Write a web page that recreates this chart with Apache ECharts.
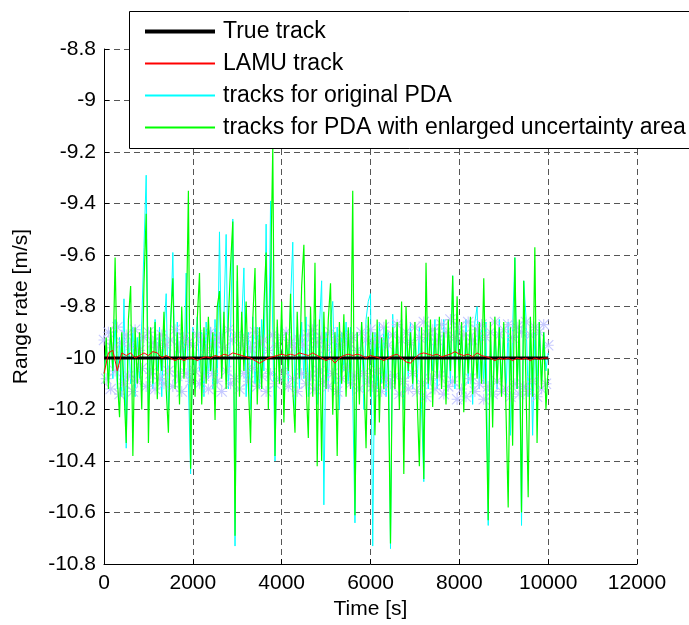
<!DOCTYPE html>
<html>
<head>
<meta charset="utf-8">
<title>Range rate</title>
<script src="https://cdn.jsdelivr.net/npm/echarts@6/dist/echarts.min.js"></script>
<style>
html,body{margin:0;padding:0;background:#fff;}
#main{width:689px;height:625px;}
</style>
</head>
<body>
<div id="main"></div>
<script>
//坐标轴刻度
var xTicks=[0,2000,4000,6000,8000,10000,12000];
var yTicks=[-10.8,-10.6,-10.4,-10.2,-10,-9.8,-9.6,-9.4,-9.2,-9,-8.8];

//真实航迹
var trueTime=[0,10000];
var trueValue=[-10,-10];

//LAMU航迹, 每100s一个点
var lamuStep=100;
var lamuValue=[
	-10.06,-9.98,-9.97,-10.05,-9.98,-9.99,-9.98,-10.0,-9.99,-9.98,
	-9.99,-9.975,-9.98,-10.0,-9.99,-10.0,-10.01,-10.0,-10.01,-10.0,
	-10.0,-10.01,-10.0,-9.995,-10.0,-9.99,-9.995,-9.985,-9.99,-9.98,
	-9.985,-9.99,-9.995,-10.0,-10.01,-10.02,-10.01,-10.0,-9.995,-9.99,
	-9.985,-9.99,-9.985,-9.99,-9.98,-9.985,-9.99,-9.98,-9.99,-10.0,
	-10.01,-10.0,-10.02,-10.0,-9.99,-9.985,-9.99,-9.985,-9.99,-10.0,
	-9.99,-9.995,-10.0,-10.01,-10.0,-9.99,-9.985,-10.0,-10.015,-10.02,
	-10.0,-9.985,-9.98,-9.985,-9.99,-9.985,-9.995,-9.99,-9.985,-9.975,
	-9.985,-9.99,-9.985,-9.995,-9.98,-9.99,-9.995,-10.0,-10.01,-10.0,
	-10.005,-10.0,-10.01,-10.0,-10.005,-10.0,-10.01,-10.0,-10.005,-10.0,
	-10.0
];

//原始PDA航迹, 每50s一个点
var pdaStep=50;
var pdaValue=[
	-10.06,-9.95,-10.1,-9.9,-10.08,-9.85,-10.12,-9.92,-10.15,-9.77,
	-10.35,-9.9,-10.1,-9.88,-10.15,-9.92,-10.08,-9.86,-9.57,-9.29,
	-10.2,-9.9,-10.12,-9.85,-10.05,-9.88,-10.15,-9.9,-9.75,-10.2,
	-9.88,-9.59,-10.1,-9.86,-10.14,-9.9,-10.05,-9.67,-10.1,-10.45,
	-9.88,-10.12,-9.84,-10.05,-9.9,-10.15,-9.86,-10.08,-9.88,-10.12,
	-9.85,-10.1,-9.51,-10.05,-9.84,-9.52,-10.12,-9.9,-9.46,-10.73,
	-9.7,-10.1,-9.86,-9.65,-10.15,-9.9,-10.2,-9.84,-10.1,-9.88,
	-10.12,-9.85,-10.05,-9.48,-10.12,-9.39,-9.9,-10.4,-9.88,-10.05,
	-9.85,-10.15,-9.9,-10.1,-9.78,-9.55,-10.2,-9.88,-10.12,-9.86,
	-10.08,-9.84,-10.15,-9.9,-10.1,-9.85,-10.18,-9.88,-9.7,-10.57,
	-9.9,-10.12,-9.85,-9.78,-10.1,-9.88,-10.2,-9.9,-10.05,-9.86,
	-10.1,-9.88,-10.15,-10.64,-9.9,-10.12,-9.86,-10.2,-9.85,-9.78,
	-9.75,-10.73,-9.9,-10.12,-9.86,-10.1,-9.88,-10.15,-9.9,-10.74,
	-9.83,-10.1,-9.88,-10.12,-9.85,-10.2,-9.9,-10.08,-9.86,-10.12,
	-9.9,-10.1,-9.88,-10.2,-10.48,-9.86,-10.12,-9.9,-10.05,-9.85,
	-10.12,-9.88,-10.08,-9.85,-10.15,-9.9,-10.1,-9.68,-10.12,-9.86,
	-10.05,-9.9,-10.12,-9.85,-10.1,-9.88,-10.18,-9.86,-9.8,-10.12,
	-9.88,-10.1,-9.86,-10.65,-9.9,-10.2,-9.88,-10.12,-9.85,-10.1,
	-9.9,-10.15,-9.86,-10.3,-9.88,-9.61,-10.12,-9.9,-10.65,-9.7,
	-9.84,-10.15,-9.88,-10.3,-9.9,-10.12,-9.86,-10.1,-9.9,-10.05,
	-9.98
];

//扩大不确定区域的PDA航迹, 每50s一个点
var enlargedStep=50;
var enlargedValue=[
	-10.10,-9.92,-10.12,-9.88,-10.05,-9.61,-10.08,-10.23,-9.90,-10.12,
	-10.33,-9.85,-9.72,-10.38,-9.88,-10.10,-9.90,-10.20,-9.71,-9.44,
	-10.33,-9.88,-10.10,-9.86,-10.16,-9.90,-10.05,-9.82,-10.12,-10.29,
	-9.86,-9.69,-10.12,-9.90,-10.18,-9.80,-10.08,-9.92,-9.35,-10.43,
	-9.90,-10.15,-9.85,-9.67,-10.18,-9.88,-10.10,-9.84,-10.05,-9.90,
	-10.24,-9.80,-9.74,-10.08,-9.82,-10.12,-9.85,-9.64,-9.47,-10.69,
	-9.64,-10.15,-9.82,-10.05,-9.78,-10.10,-10.33,-9.85,-9.65,-10.18,
	-9.88,-10.12,-9.80,-9.59,-10.20,-9.70,-9.18,-10.38,-9.85,-10.10,
	-9.78,-10.25,-9.90,-10.05,-9.75,-10.12,-10.29,-9.82,-10.08,-9.72,
	-9.56,-10.10,-10.31,-9.80,-10.15,-9.63,-10.42,-9.85,-10.40,-9.82,
	-10.12,-9.85,-9.71,-10.22,-9.90,-10.38,-9.86,-10.10,-9.83,-10.15,
	-9.88,-10.12,-9.35,-10.61,-9.90,-10.18,-9.86,-10.05,-10.35,-9.84,
	-10.15,-9.90,-10.30,-9.85,-10.25,-9.92,-10.12,-9.85,-10.05,-10.72,
	-9.88,-10.12,-9.86,-10.20,-9.78,-10.45,-9.80,-10.05,-9.90,-10.10,
	-9.86,-10.15,-10.42,-9.88,-10.47,-9.63,-10.10,-9.85,-10.19,-9.88,
	-10.08,-9.84,-10.12,-9.90,-10.18,-9.85,-10.05,-9.68,-10.10,-9.76,
	-10.12,-9.86,-10.21,-9.90,-10.06,-9.84,-10.14,-9.88,-10.08,-9.86,
	-10.10,-9.69,-10.15,-10.63,-9.86,-10.27,-9.84,-10.10,-9.88,-10.15,
	-9.86,-10.20,-10.58,-9.88,-10.34,-9.61,-10.12,-9.85,-10.60,-9.70,
	-10.10,-10.54,-9.84,-10.15,-9.57,-10.33,-9.86,-10.12,-9.90,-10.20,
	-10.04
];

//量测点, 每50s一个点
var measStep=50;
var measValue=[
	-9.93,-10.08,-9.9,-10.12,-9.96,-10.05,-9.88,-10.14,-9.94,-10.1,
	-9.91,-10.07,-9.95,-10.13,-9.89,-10.09,-9.97,-10.04,-9.92,-10.11,
	-9.9,-10.06,-9.94,-10.12,-9.96,-10.08,-9.91,-10.1,-9.95,-10.05,
	-9.93,-10.11,-9.89,-10.07,-9.96,-10.13,-9.92,-10.06,-9.94,-10.09,
	-9.95,-10.05,-9.91,-10.1,-9.93,-10.07,-9.97,-10.12,-9.9,-10.06,
	-9.94,-10.09,-9.92,-10.13,-9.96,-10.05,-9.89,-10.1,-9.93,-10.08,
	-9.91,-10.12,-9.95,-10.06,-9.92,-10.09,-9.96,-10.04,-9.9,-10.11,
	-9.94,-10.07,-9.93,-10.13,-9.97,-10.06,-9.91,-10.1,-9.95,-10.08,
	-9.92,-10.05,-9.9,-10.11,-9.94,-10.08,-9.96,-10.13,-9.93,-10.06,
	-9.95,-10.1,-9.91,-10.07,-9.89,-10.12,-9.94,-10.05,-9.92,-10.09,
	-9.96,-10.11,-9.9,-10.06,-9.93,-10.13,-9.95,-10.08,-9.91,-10.04,
	-9.94,-10.1,-9.92,-10.07,-9.97,-10.12,-9.9,-10.06,-9.93,-10.09,
	-9.89,-10.11,-9.94,-10.05,-9.92,-10.13,-9.88,-10.08,-9.95,-10.1,
	-9.91,-10.07,-9.87,-10.14,-9.93,-10.09,-9.9,-10.12,-9.94,-10.06,
	-9.88,-10.13,-9.92,-10.1,-9.86,-10.15,-9.91,-10.08,-9.89,-10.12,
	-9.93,-10.07,-9.87,-10.14,-9.9,-10.11,-9.85,-10.09,-9.92,-10.16,
	-9.88,-10.12,-9.91,-10.15,-9.86,-10.08,-9.93,-10.13,-9.89,-10.1,
	-9.87,-10.16,-9.92,-10.11,-9.9,-10.14,-9.86,-10.09,-9.91,-10.13,
	-9.89,-10.12,-9.87,-10.15,-9.92,-10.1,-9.88,-10.14,-9.9,-10.11,
	-9.86,-10.13,-9.91,-10.09,-9.88,-10.15,-9.9,-10.12,-9.87,-10.1,
	-9.95
];

//把数值数组变成[时间,数值]
function toPairs(values,step){
	var list=[];
	for(var i=0;i<values.length;i++){
		list.push([i*step,values[i]]);
	}
	return list;
}

var font="'Liberation Sans', Arial, sans-serif";
//星号符号
var starPath='path://M9,0H11V20H9Z M0,9H20V11H0Z M1.4,0L20,18.6L18.6,20L0,1.4Z M18.6,0L20,1.4L1.4,20L0,18.6Z';

var myChart=echarts.init(document.getElementById('main'));

var option={
	backgroundColor:'#ffffff',
	animation:false,
	textStyle:{fontFamily:font,color:'#000'},
	grid:{left:104,right:52,top:49,bottom:60,containLabel:false},
	//图例的边框超出画面右边
	graphic:[{
		type:'rect',
		z:20,
		shape:{x:129.5,y:11.5,width:620,height:137},
		style:{fill:'#ffffff',stroke:'#000',lineWidth:1}
	}],
	legend:{
		data:[
			{name:'True track',lineStyle:{width:4}},
			'LAMU track','tracks for original PDA','tracks for PDA with enlarged uncertainty area'
		],
		orient:'vertical',
		left:129,
		top:11,
		z:30,
		padding:[9,10,10,14],
		itemGap:9,
		itemWidth:70,
		itemHeight:14,
		itemStyle:{opacity:0},
		textStyle:{fontFamily:font,fontSize:23,color:'#000',padding:[0,0,0,3]}
	},
	xAxis:{
		type:'value',
		min:xTicks[0],
		max:xTicks[xTicks.length-1],
		interval:2000,
		name:'Time [s]',
		nameLocation:'middle',
		nameGap:32,
		nameTextStyle:{fontFamily:font,fontSize:21,color:'#000'},
		axisLine:{show:true,onZero:false,lineStyle:{color:'#000',width:1}},
		axisTick:{show:true,inside:true,length:5,lineStyle:{color:'#000'}},
		axisLabel:{fontFamily:font,fontSize:21,color:'#000',margin:9,
			formatter:function(value){return String(value);}},
		splitLine:{show:true,lineStyle:{color:'#555',width:1,type:[6,4]}}
	},
	yAxis:{
		type:'value',
		min:yTicks[0],
		max:yTicks[yTicks.length-1],
		interval:0.2,
		name:'Range rate [m/s]',
		nameLocation:'middle',
		nameGap:72,
		nameTextStyle:{fontFamily:font,fontSize:21,color:'#000'},
		axisLine:{show:true,onZero:false,lineStyle:{color:'#000',width:1}},
		axisTick:{show:true,inside:true,length:5,lineStyle:{color:'#000'}},
		axisLabel:{fontFamily:font,fontSize:21,color:'#000',margin:8},
		splitLine:{show:true,lineStyle:{color:'#555',width:1,type:[6,4]}}
	},
	series:[
		{
			name:'tracks for original PDA',
			type:'line',
			data:toPairs(pdaValue,pdaStep),
			symbol:'none',
			lineStyle:{color:'#00ffff',width:1},
			itemStyle:{color:'#00ffff'},
			z:1
		},
		{
			name:'measurements',
			type:'scatter',
			data:toPairs(measValue,measStep),
			symbol:starPath,
			symbolSize:11,
			itemStyle:{color:'#b8bcff'},
			silent:true,
			z:2
		},
		{
			name:'tracks for PDA with enlarged uncertainty area',
			type:'line',
			data:toPairs(enlargedValue,enlargedStep),
			symbol:'none',
			lineStyle:{color:'#00ff00',width:1.2},
			itemStyle:{color:'#00ff00'},
			z:3
		},
		{
			name:'True track',
			type:'line',
			data:[[trueTime[0],trueValue[0]],[trueTime[1],trueValue[1]]],
			symbol:'none',
			lineStyle:{color:'#000',width:3},
			itemStyle:{color:'#000'},
			z:4
		},
		{
			name:'LAMU track',
			type:'line',
			data:toPairs(lamuValue,lamuStep),
			symbol:'none',
			lineStyle:{color:'#ff0000',width:1},
			itemStyle:{color:'#ff0000'},
			z:5
		}
	]
};

myChart.setOption(option);
</script>
</body>
</html>
